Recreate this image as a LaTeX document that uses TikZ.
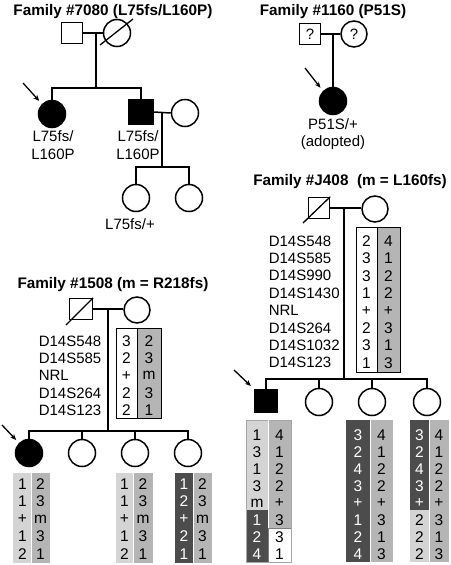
\documentclass[tikz,border=0pt]{standalone}
\usepackage{fontspec}
\setmainfont{Liberation Sans}
\usetikzlibrary{arrows.meta}
\definecolor{glight}{gray}{0.83}
\definecolor{gmid}{gray}{0.71}
\definecolor{gdark}{gray}{0.30}
\begin{document}
\begin{tikzpicture}[x=1pt,y=-1pt, line width=1.5pt,
 male/.style={draw, rectangle, minimum size=21pt, inner sep=0pt, fill=white},
 female/.style={draw, circle, minimum size=27pt, inner sep=0pt, fill=white},
 aff/.style={fill=black},
 lbl/.style={font=\fontsize{15}{17.5}\selectfont, inner sep=0pt, align=center},
 ttl/.style={font=\fontsize{15.3}{17}\selectfont\bfseries, inner sep=0pt},
 mk/.style={font=\fontsize{15}{17}\selectfont, inner sep=0pt, anchor=west},
 hap/.style={font=\fontsize{15.5}{17}\selectfont, inner sep=0pt},
 prob/.style={-{Stealth[length=6pt,width=5pt]}, line width=1.3pt, shorten >=4pt},
 dec/.style={line width=1.3pt},
 hbox/.style={line width=0.6pt},
]
\useasboundingbox[fill=white] (0,0) rectangle (450,565);

% ---------------- Family 7080
\node[ttl] (t1) at (113,12) {Family \#7080 (L75fs/L160P)};
\node[male] (f1) at (72,33) {};
\node[female] (m1) at (117,33) {};
\draw[dec] ([shift={(-17,12)}]m1.center) -- ([shift={(16,-14)}]m1.center);
\draw (f1.east) -- (m1.west);
\coordinate (d1) at (96,33);
\coordinate (s1) at (96,88);
\node[female, aff] (c11) at (52,114) {};
\node[male, aff, minimum size=24pt] (c12) at (141,112) {};
\draw (d1) -- (s1);
\draw (c11.north) |- (s1) -| (c12.north);
\node[female] (sp1) at (185,113) {};
\draw (c12.east) -- (sp1.west);
\coordinate (d2) at (162,113);
\coordinate (s2) at (162,167);
\draw (d2) -- (s2);
\node[female] (g11) at (136,198) {};
\node[female] (g12) at (189,198) {};
\draw (g11.north) |- (s2) -| (g12.north);
\coordinate (a1) at (23,83);
\draw[prob] (a1) -- (c11.135);
\node[lbl] (l11) at (53,145) {L75fs/\\L160P};
\node[lbl] (l12) at (138,145) {L75fs/\\L160P};
\node[lbl] (l13) at (130,224) {L75fs/+};

% ---------------- Family 1160
\node[ttl] (t2) at (333,12) {Family \#1160 (P51S)};
\node[male, font=\fontsize{15}{17}\selectfont] (f2) at (310,34) {?};
\node[female, minimum size=26pt, font=\fontsize{15}{17}\selectfont] (m2) at (354,34) {?};
\draw (f2.east) -- (m2.west);
\node[female, aff] (c21) at (333,101) {};
\coordinate (d3) at (333,34);
\draw (d3) -- (c21.north);
\coordinate (a2) at (305,68);
\draw[prob] (a2) -- (c21.135);
\node[lbl] (l21) at (333,134) {P51S/+\\(adopted)};

% ---------------- Family J408
\node[ttl] (t3) at (350,182) {Family \#J408\ \ (m = L160fs)};
\node[male] (f3) at (319,208) {};
\draw[dec] ([shift={(-16,15)}]f3.center) -- (f3.north east);
\node[female, minimum size=26pt] (m3) at (375,209) {};
\draw (f3.east) -- (m3.west |- f3.east);
\coordinate (d4) at (344,208);
\coordinate (s4) at (344,379);
\draw (d4) -- (s4);
\node[male, aff, minimum size=23pt] (c31) at (266,401) {};
\node[female] (c32) at (319,402) {};
\node[female] (c33) at (372,402) {};
\node[female] (c34) at (427,402) {};
\draw (c31.north) |- (s4) -| (c34.north);
\draw (c32.north) -- (c32.north |- s4);
\draw (c33.north) -- (c33.north |- s4);
\coordinate (a3) at (234,370);
\draw[prob] (a3) -- (c31.north west);
% marker labels
\foreach \m [count=\i] in {D14S548,D14S585,D14S990,D14S1430,NRL,D14S264,D14S1032,D14S123}
  \node[mk] (jm\i) at (268,{241+17.4*(\i-1)}) {\m};
% parent haplotype box
\fill[gmid] (377,227) rectangle (400,372);
\draw[hbox] (356,227) rectangle (400,372);
\draw[hbox] (377,227) -- (377,372);
\foreach \a/\b [count=\i] in {2/4,3/1,3/2,1/2,+/+,2/3,3/1,1/3}{
  \node[hap] (jpa\i) at (366.5,{241+17.4*(\i-1)}) {\a};
  \node[hap] (jpb\i) at (388.5,{241+17.4*(\i-1)}) {\b};
}
% proband box
\fill[glight] (246,420) rectangle (268,510);
\fill[gdark] (246,510) rectangle (268,562);
\fill[gmid] (268,420) rectangle (291,528);
\draw[hbox, gray] (268,528) rectangle (291,562);
\draw[hbox, gray!70] (246,420) rectangle (291,562);
\draw[white, line width=0.8pt] (268,420) -- (268,528);
\foreach \a/\c/\b [count=\i] in {1/black/4,3/black/1,1/black/2,3/black/2,m/black/+,1/white/3,2/white/3,4/white/1}{
  \node[hap, text=\c] (jqa\i) at (257,{435+17*(\i-1)}) {\a};
  \node[hap] (jqb\i) at (279.5,{435+17*(\i-1)}) {\b};
}
% child 3 box
\fill[gdark] (346,420) rectangle (370,562);
\fill[gmid] (370,420) rectangle (393,562);
\draw[white, line width=0.8pt] (370,420) -- (370,562);
\foreach \a/\b [count=\i] in {3/4,2/1,4/2,3/2,+/+,1/3,2/1,4/3}{
  \node[hap, text=white] (jra\i) at (358,{435+17*(\i-1)}) {\a};
  \node[hap] (jrb\i) at (381.5,{435+17*(\i-1)}) {\b};
}
% child 4 box
\fill[gdark] (410,420) rectangle (429,510);
\fill[glight] (410,510) rectangle (429,562);
\fill[gmid] (429,420) rectangle (449,562);
\draw[white, line width=0.8pt] (429,420) -- (429,562);
\foreach \a/\c/\b [count=\i] in {3/white/4,2/white/1,4/white/2,3/white/2,+/white/+,2/black/3,2/black/1,2/black/3}{
  \node[hap, text=\c] (jsa\i) at (419.5,{435+17*(\i-1)}) {\a};
  \node[hap] (jsb\i) at (439,{435+17*(\i-1)}) {\b};
}

% ---------------- Family 1508
\node[ttl] (t4) at (113,285) {Family \#1508 (m = R218fs)};
\node[male, minimum width=23pt] (f4) at (81,309) {};
\draw[dec] ([shift={(-15,16)}]f4.center) -- (f4.north east);
\node[female, minimum size=26pt] (m4) at (137,310) {};
\draw (f4.east) -- (m4.west |- f4.east);
\coordinate (d5) at (108,309);
\coordinate (s5) at (108,431);
\draw (d5) -- (s5);
\node[female, aff] (c41) at (29,453) {};
\node[female] (c42) at (82,453) {};
\node[female] (c43) at (135,453) {};
\node[female] (c44) at (188,453) {};
\draw (c41.north) |- (s5) -| (c44.north);
\draw (c42.north) -- (c42.north |- s5);
\draw (c43.north) -- (c43.north |- s5);
\coordinate (a4) at (2,425);
\draw[prob] (a4) -- (c41.135);
\foreach \m [count=\i] in {D14S548,D14S585,NRL,D14S264,D14S123}
  \node[mk] (bm\i) at (38,{341+17.3*(\i-1)}) {\m};
\fill[gmid] (137,328) rectangle (161,418);
\draw[hbox] (116,328) rectangle (161,418);
\draw[hbox] (137,328) -- (137,418);
\foreach \a/\b [count=\i] in {3/2,2/3,+/m,2/3,2/1}{
  \node[hap] (bpa\i) at (126.5,{341+17.3*(\i-1)}) {\a};
  \node[hap] (bpb\i) at (149,{341+17.3*(\i-1)}) {\b};
}
% child boxes
\fill[glight] (13,473) rectangle (31,563);
\fill[gmid] (31,473) rectangle (50,563);
\draw[white, line width=0.8pt] (31,473) -- (31,563);
\fill[glight] (116,473) rectangle (133,563);
\fill[gmid] (133,473) rectangle (153,563);
\draw[white, line width=0.8pt] (133,473) -- (133,563);
\fill[gdark] (175,473) rectangle (193,563);
\fill[gmid] (193,473) rectangle (212,563);
\draw[white, line width=0.8pt] (193,473) -- (193,563);
\foreach \a/\b/\c [count=\i] in {1/2/1,1/3/2,+/m/+,1/3/2,2/1/1}{
  \node[hap] (bqa\i) at (22.5,{484+17.5*(\i-1)}) {\a};
  \node[hap] (bqb\i) at (40.5,{484+17.5*(\i-1)}) {\b};
  \node[hap] (bra\i) at (124.5,{484+17.5*(\i-1)}) {\a};
  \node[hap] (brb\i) at (143,{484+17.5*(\i-1)}) {\b};
  \node[hap, text=white] (bsa\i) at (184,{484+17.5*(\i-1)}) {\c};
  \node[hap] (bsb\i) at (202.5,{484+17.5*(\i-1)}) {\b};
}
\end{tikzpicture}
\end{document}
